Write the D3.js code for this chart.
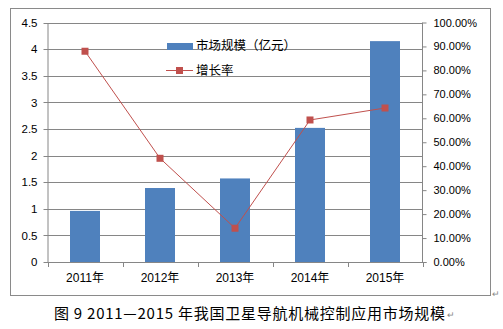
<!DOCTYPE html>
<html>
<head>
<meta charset="utf-8">
<script src="https://cdn.jsdelivr.net/npm/d3@7"></script>
<style>
  html, body { margin: 0; padding: 0; background: #fff; }
  svg { display: block; }
</style>
</head>
<body>
<svg id="chart" width="503" height="329"></svg>
<script>
// Satellite navigation machine control market: size (100M CNY) and growth rate
const years = ["2011年", "2012年", "2013年", "2014年", "2015年"];
const marketSize = [0.96, 1.39, 1.57, 2.52, 4.15];
const growthRate = [0.88, 0.433, 0.141, 0.593, 0.643];
const leftTicks = [0, 0.5, 1, 1.5, 2, 2.5, 3, 3.5, 4, 4.5];
const rightTicks = [0, 0.1, 0.2, 0.3, 0.4, 0.5, 0.6, 0.7, 0.8, 0.9, 1.0];
const legendLabels = ["市场规模（亿元）", "增长率"];
const caption = "图 9  2011—2015 年我国卫星导航机械控制应用市场规模";

const svg = d3.select("#chart");
const font = "'Liberation Sans', Arial, 'Noto Sans CJK SC', sans-serif";
const cjk = "'Noto Sans CJK SC', 'Liberation Sans', sans-serif";
const gridColor = "#868686";
const barColor = "#4F81BD";
const lineColor = "#C0504D";

const plot = { left: 47.5, right: 422.5, top: 22.5, bottom: 262 };

const x = d3.scaleBand().domain(years).range([plot.left, plot.right]).paddingInner(0.6).paddingOuter(0.3);
const xCenter = d => x(d) + x.bandwidth() / 2;
const yL = d3.scaleLinear().domain([0, 4.5]).range([plot.bottom, plot.top]);
const yR = d3.scaleLinear().domain([0, 1]).range([plot.bottom, plot.top]);

// chart frame
svg.append("rect")
  .attr("x", 10.5).attr("y", 8.5).attr("width", 480).attr("height", 287)
  .attr("fill", "#fff").attr("stroke", "#8a8a8a").attr("stroke-width", 1);

// horizontal gridlines (extend a little past the left axis as tick marks)
svg.append("g").selectAll("line").data(leftTicks).join("line")
  .attr("x1", plot.left - 4).attr("x2", plot.right)
  .attr("y1", d => Math.round(yL(d)) + 0.5).attr("y2", d => Math.round(yL(d)) + 0.5)
  .attr("stroke", gridColor).attr("stroke-width", 1);

// left axis
const leftAxis = svg.append("g")
  .attr("transform", `translate(${plot.left},0)`)
  .call(d3.axisLeft(yL).tickValues(leftTicks).tickSize(0).tickPadding(10).tickFormat(d3.format("")));
leftAxis.select(".domain").attr("stroke", gridColor);
leftAxis.selectAll("text").attr("font-family", font).attr("font-size", 11.5).attr("fill", "#000");

// right axis
const rightAxis = svg.append("g")
  .attr("transform", `translate(${plot.right},0)`)
  .call(d3.axisRight(yR).tickValues(rightTicks).tickSize(4).tickPadding(7).tickFormat(d3.format(".2%")));
rightAxis.select(".domain").attr("stroke", gridColor).attr("d", `M0,${plot.top}V${plot.bottom}`);
rightAxis.selectAll(".tick line").attr("stroke", gridColor);
rightAxis.selectAll("text").attr("font-family", font).attr("font-size", 11).attr("fill", "#000");

// bars
svg.append("g").selectAll("rect").data(marketSize).join("rect")
  .attr("x", (d, i) => x(years[i]))
  .attr("width", x.bandwidth())
  .attr("y", d => yL(d))
  .attr("height", d => yL(0) - yL(d))
  .attr("fill", barColor);

// bottom axis with category boundary ticks
const step = (plot.right - plot.left) / years.length;
svg.append("line")
  .attr("x1", plot.left).attr("x2", plot.right + 4)
  .attr("y1", plot.bottom + 0.5).attr("y2", plot.bottom + 0.5)
  .attr("stroke", gridColor);
svg.append("g").selectAll("line").data(d3.range(years.length + 1)).join("line")
  .attr("x1", i => Math.round(plot.left + i * step) + 0.5)
  .attr("x2", i => Math.round(plot.left + i * step) + 0.5)
  .attr("y1", plot.bottom).attr("y2", plot.bottom + 5)
  .attr("stroke", gridColor);
svg.append("g").selectAll("text").data(years).join("text")
  .attr("x", d => xCenter(d)).attr("y", 282)
  .attr("text-anchor", "middle")
  .attr("font-family", font).attr("font-size", 12).attr("fill", "#000")
  .text(d => d);

// growth rate line with square markers
const line = d3.line().x((d, i) => xCenter(years[i])).y(d => yR(d));
svg.append("path").datum(growthRate)
  .attr("d", line).attr("fill", "none")
  .attr("stroke", lineColor).attr("stroke-width", 1);
svg.append("g").selectAll("rect").data(growthRate).join("rect")
  .attr("x", (d, i) => xCenter(years[i]) - 3.5)
  .attr("y", d => yR(d) - 3.5)
  .attr("width", 7).attr("height", 7)
  .attr("fill", lineColor);

// legend
const lg = svg.append("g");
lg.append("rect").attr("x", 167).attr("y", 43).attr("width", 26).attr("height", 7).attr("fill", barColor);
lg.append("text").attr("x", 196).attr("y", 49.5)
  .attr("font-family", cjk).attr("font-size", 12.5).attr("fill", "#000").text(legendLabels[0]);
lg.append("line").attr("x1", 166).attr("x2", 193).attr("y1", 70.5).attr("y2", 70.5)
  .attr("stroke", lineColor).attr("stroke-width", 1);
lg.append("rect").attr("x", 176).attr("y", 67).attr("width", 7).attr("height", 7).attr("fill", lineColor);
lg.append("text").attr("x", 196).attr("y", 74.5)
  .attr("font-family", cjk).attr("font-size", 12.5).attr("fill", "#000").text(legendLabels[1]);

// paragraph marks and caption
svg.append("text").attr("x", 492).attr("y", 297)
  .attr("font-family", font).attr("font-size", 9).attr("fill", "#888").text("↵");
svg.append("text").attr("x", 54).attr("y", 319)
  .attr("font-family", cjk).attr("font-size", 15).attr("fill", "#000")
  .attr("textLength", 391).attr("lengthAdjust", "spacing")
  .text(caption);
svg.append("text").attr("x", 447).attr("y", 318)
  .attr("font-family", font).attr("font-size", 9).attr("fill", "#888").text("↵");
</script>
</body>
</html>
